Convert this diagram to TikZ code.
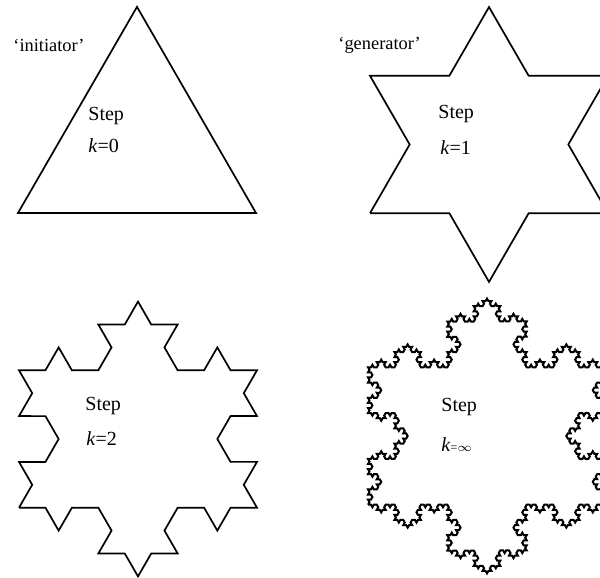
\documentclass[tikz,border=0pt]{standalone}
\usepackage{fontspec}
\setmainfont{Liberation Serif}
\usetikzlibrary{decorations.fractals}

\tikzset{
  outline/.style={line width=0.85pt, decoration=Koch snowflake},
  caption/.style={anchor=west, inner sep=0pt, font=\fontsize{9.2}{11}\selectfont},
  steplabel/.style={anchor=west, inner sep=0pt, font=\fontsize{10}{12}\selectfont},
}

\begin{document}
\begin{tikzpicture}[x=1pt, y=1pt]
  \useasboundingbox (0,0) rectangle (300,289);
  \clip (0,0) rectangle (300,289);

  % corners of the four base triangles (traversed clockwise)
  \coordinate (a0) at (9,182.5);    \coordinate (b0) at (68.5,285.56);  \coordinate (c0) at (128,182.5);
  \coordinate (a1) at (185,182.4);  \coordinate (b1) at (244.5,285.46); \coordinate (c1) at (304,182.4);
  \coordinate (a2) at (9.5,35.15);  \coordinate (b2) at (69,138.2);     \coordinate (c2) at (128.5,35.15);
  \coordinate (a3) at (184,36.65);  \coordinate (b3) at (243.5,139.7);  \coordinate (c3) at (303,36.65);

  % k = 0 : the initiator triangle
  \draw[outline] (a0) -- (b0) -- (c0) -- cycle;
  \node[caption] (init) at (6.5,266.5) {‘initiator’};
  \node[steplabel] (s0) at (44,231) {Step};
  \node[steplabel] (k0) at (44,216) {\textit{k}=0};

  % k = 1 : the generator star
  \draw[outline] decorate{ (a1) -- (b1) -- (c1) -- cycle };
  \node[caption] (gen) at (169,266.5) {‘generator’};
  \node[steplabel] (s1) at (219,232) {Step};
  \node[steplabel] (k1) at (220,215) {\textit{k}=1};

  % k = 2
  \draw[outline] decorate{ decorate{ (a2) -- (b2) -- (c2) -- cycle } };
  \node[steplabel] (s2) at (42.5,86) {Step};
  \node[steplabel] (k2) at (43,69.5) {\textit{k}=2};

  % k -> infinity (drawn at a fine order)
  \draw[outline, line width=1pt] decorate{ decorate{ decorate{ decorate{ (a3) -- (b3) -- (c3) -- cycle } } } };
  \node[steplabel] (s3) at (220.5,85.5) {Step};
  \node[steplabel] (k3) at (220.5,66.5) {\textit{k}{\fontsize{6}{7}\selectfont=$\infty$}};
\end{tikzpicture}
\end{document}
